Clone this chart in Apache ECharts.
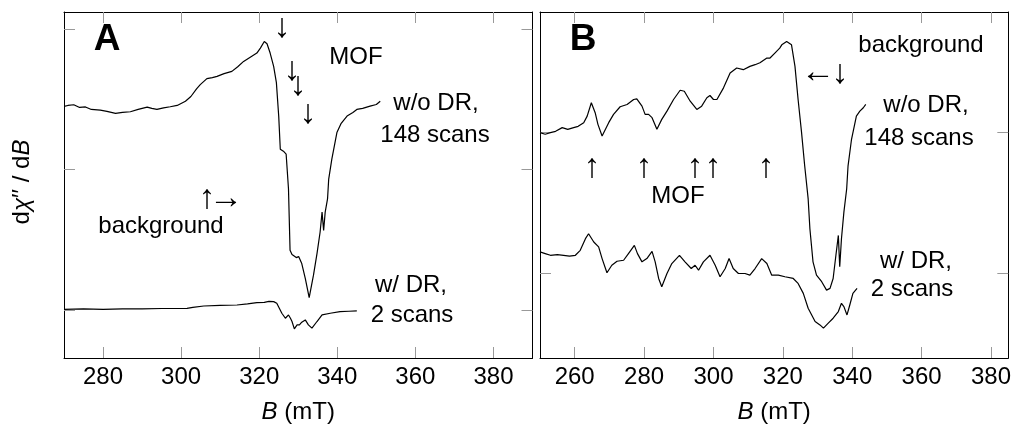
<!DOCTYPE html>
<html lang="en">
<head>
<meta charset="UTF-8">
<title>EPR spectra A / B</title>
<script src="https://cdn.jsdelivr.net/npm/echarts@6/dist/echarts.min.js"></script>
<style>
  html, body { margin: 0; padding: 0; background: #fff; }
  #main { width: 1014px; height: 429px; }
</style>
</head>
<body>
<div id="main"></div>
<script>
// field values in mT, signal in arbitrary units
var ticksA = [280, 300, 320, 340, 360, 380];
var ticksB = [260, 280, 300, 320, 340, 360, 380];
var yTicksA = [48, 190, 331];
var yTicksB = [85, 227];

// panel A, w/o DR, 148 scans
var aNoDR = [[270,253],[271,254],[272.5,254.7],[274,252],[275.5,252.5],[277,250],[279.3,249.3],[281,248],
  [283.2,246],[285,247],[287,247.7],[289,250],[291.3,252.3],[292.5,251],[293.8,250],[295.5,251.5],
  [297.2,252.7],[299,254],[301.1,258.3],[302.5,263],[304,271],[304.9,275],[306.6,281],[308,282],
  [309.2,283.3],[311,286],[313,288.3],[314.5,293],[316,298.3],[317.5,302],[319.4,306.7],[320.3,311.7],
  [321.3,318.3],[322,316],[322.8,306.7],[323.7,293.3],[324.4,277],[325,243],[325.4,210],[326.2,208],
  [326.9,205],[327.5,170],[327.9,108.3],[328.4,104],[328.8,105],[329.5,101],[330.1,102],[330.9,95],
  [331.8,80],[332.8,60.7],[333.9,83.3],[334.8,105],[335.6,126.7],[336.1,146.7],[336.5,128.3],
  [336.9,146.7],[337.5,160],[337.8,180],[338.6,200],[339.9,226.7],[341,236],[342.5,243.3],[344,247],
  [345,250],[346.5,251],[348.4,253.3],[350,255],[351,258.3]];

// panel A, w/ DR, 2 scans
var aDR = [[270,49],[275,49.5],[280,49],[285,49.5],[290,49.5],[295,49.8],[301.5,50],[303,51],
  [305.8,52.3],[310,53],[314.3,53.3],[317,54.5],[319.4,55.7],[321.3,56],[322.5,57],[323.7,56.7],
  [324.5,55],[325,53.3],[325.8,45],[326.7,40],[327.5,43.3],[328,40],[328.4,36.7],[329,29.3],
  [329.7,33.3],[330.3,33.3],[330.9,36],[331.8,38.3],[332.6,33.3],[333.5,30],[334.8,36.7],
  [336.1,43.3],[338.2,45],[340.7,46.7],[343,47],[345,47.3]];

// panel B, w/o DR, 148 scans
var bNoDR = [[250,226.7],[251.5,225],[253,226.7],[254.5,228],[256.4,231.7],[258,230],[259.7,231.7],
  [261,233],[262.6,236.7],[263.6,243.3],[264.8,256.7],[265.9,246.7],[266.7,235],[267.9,223.3],
  [269.8,236.7],[271.2,245],[273.1,252.7],[275.1,255],[277,260],[277.9,260.7],[279.4,253.3],
  [280.3,245],[281.3,245],[282.3,241.7],[283.7,230],[285.1,240],[286.6,248.3],[288.5,260],
  [290.4,269.3],[291.6,268.3],[293.3,258.3],[295.2,250],[296.6,253.3],[298.1,261.7],[299,264],
  [300,260],[301,260],[302.9,271.7],[304.8,286.7],[306.7,291.7],[308.6,290],[310.5,293.3],
  [312,295],[313.4,297],[315.4,301.7],[316.3,301.7],[317.7,306.7],[319.1,311.7],[319.7,315],
  [321.1,318.3],[322.5,315],[323.5,293.3],[324.4,260],[325.4,226.7],[326.3,193.3],[327.3,160],
  [327.8,130],[328.7,96.7],[329.7,83.3],[331.2,76.7],[332.6,68.3],[333.6,70],[334.5,80],
  [335.3,103.3],[336,123.3],[336.4,91.7],[336.9,120],[337.6,146.7],[338.4,170],[338.8,193.3],
  [339.8,220],[341.2,243.3],[342.2,248.3],[343.2,251.7],[343.9,255]];

// panel B, w/ DR, 2 scans
var bDR = [[250,106.7],[251.5,105],[253,103.3],[255,104],[256.8,103.3],[258.5,102.5],[260.2,103.3],
  [261.6,108.3],[263.1,120],[264,125],[265.5,116.7],[266.9,111.7],[267.9,100],[269.3,85.7],
  [270.7,93.3],[272.2,97.3],[274.1,98.3],[275.5,105],[277.2,113.3],[278.1,105],[279.4,96.7],
  [280.8,100],[282.3,107.3],[283.2,96.7],[284.2,80],[285.1,71.7],[286.6,85],[288,95],[290.2,103.3],
  [291.8,96.7],[293.6,90],[294.7,93.3],[295.7,88.3],[297.1,96.7],[299,103.3],[300.5,93.3],
  [301.9,81.7],[303.4,90],[304.5,100],[305.7,90],[307.2,85],[309.1,85],[310.5,83.3],[312,90],
  [313.9,100],[315.4,95],[316.8,83.3],[318.7,83.3],[320.6,81.7],[323,80],[324.4,75],[325.9,65],
  [327.3,50],[329.3,36.7],[330.7,33.3],[331.7,30],[333.1,35],[334.5,40],[336,46.7],[336.9,55],
  [337.6,51.7],[338.5,43.3],[339.3,53.3],[340.2,65],[341.4,70]];

var FONT = 'Liberation Sans, Arial, Helvetica, sans-serif';
var tickStyle = { show: true, inside: true, length: 11, lineStyle: { color: '#999', width: 1 } };
var boxLine = { show: true, onZero: false, lineStyle: { color: '#000', width: 1 } };

function xBottom(gi, min, max, ticks) {
  return {
    type: 'value', gridIndex: gi, position: 'bottom', min: min, max: max,
    axisLine: boxLine,
    axisTick: Object.assign({ customValues: ticks }, tickStyle),
    axisLabel: { customValues: ticks, color: '#000', fontSize: 24, fontFamily: FONT, margin: 7 },
    splitLine: { show: false },
    name: '{i|B} (mT)', nameLocation: 'middle', nameGap: 42,
    nameTextStyle: {
      color: '#000', fontSize: 24, fontFamily: FONT,
      rich: { i: { fontStyle: 'italic', fontSize: 24, fontFamily: FONT, color: '#000' } }
    }
  };
}
function xTop(gi, min, max, ticks) {
  return {
    type: 'value', gridIndex: gi, position: 'top', min: min, max: max,
    axisLine: boxLine,
    axisTick: Object.assign({ customValues: ticks }, tickStyle),
    axisLabel: { show: false }, splitLine: { show: false }
  };
}
function yAx(gi, pos, ticks) {
  return {
    type: 'value', gridIndex: gi, position: pos, min: 0, max: 348,
    axisLine: boxLine,
    axisTick: Object.assign({ customValues: ticks }, tickStyle),
    axisLabel: { show: false }, splitLine: { show: false }
  };
}
function line(data, xi, yi) {
  return {
    type: 'line', data: data, xAxisIndex: xi, yAxisIndex: yi,
    showSymbol: false, symbol: 'none', silent: true,
    lineStyle: { color: '#000', width: 1.2 }
  };
}
function txt(x, y, s, size, extra) {
  return {
    type: 'text', x: x, y: y, silent: true,
    style: Object.assign({ text: s, fontSize: size || 24, fontFamily: FONT, fill: '#000',
      align: 'center', verticalAlign: 'middle' }, extra || {})
  };
}
// arrow glyphs are drawn larger than the labels
function arr(x, y, s) { return txt(x, y, s, 34); }

var myChart = echarts.init(document.getElementById('main'), null, { renderer: 'canvas' });

var option = {
  animation: false,
  backgroundColor: '#fff',
  grid: [
    { left: 64, top: 12, width: 468.5, height: 348 },
    { left: 540, top: 12, width: 468.5, height: 348 }
  ],
  xAxis: [
    xBottom(0, 270, 390, ticksA), xTop(0, 270, 390, ticksA),
    xBottom(1, 250, 385, ticksB), xTop(1, 250, 385, ticksB)
  ],
  yAxis: [
    yAx(0, 'left', yTicksA), yAx(0, 'right', yTicksA),
    yAx(1, 'left', yTicksB), yAx(1, 'right', yTicksB)
  ],
  series: [
    line(aNoDR, 0, 0), line(aDR, 0, 0),
    line(bNoDR, 2, 2), line(bDR, 2, 2)
  ],
  graphic: [
    // y axis title
    {
      type: 'text', x: 22, y: 182, rotation: Math.PI / 2, silent: true,
      style: {
        text: '{n|d}{i|χ}{n|′′ / d}{i|B}', align: 'center', verticalAlign: 'middle',
        rich: {
          n: { fontSize: 24, fontFamily: FONT, fill: '#000' },
          i: { fontSize: 24, fontFamily: FONT, fill: '#000', fontStyle: 'italic' }
        }
      }
    },
    // panel A
    txt(107, 40, 'A', 37, { fontWeight: 'bold' }),
    arr(282, 28, '↓'), arr(292, 71, '↓'), arr(298, 86, '↓'), arr(308, 114, '↓'),
    txt(356, 57, 'MOF'),
    txt(436, 103, 'w/o DR,'), txt(435, 135, '148 scans'),
    arr(207, 199, '↑'), arr(226, 199, '→'),
    txt(161, 226, 'background'),
    txt(411, 285, 'w/ DR,'), txt(412, 315, '2 scans'),
    // panel B
    txt(583, 40, 'B', 37, { fontWeight: 'bold' }),
    txt(921, 45, 'background'),
    arr(818, 73, '←'), arr(840, 74, '↓'),
    txt(926, 105, 'w/o DR,'), txt(919, 138, '148 scans'),
    arr(592, 168, '↑'), arr(644, 168, '↑'), arr(695, 168, '↑'), arr(713, 168, '↑'), arr(766, 168, '↑'),
    txt(678, 196, 'MOF'),
    txt(916, 261, 'w/ DR,'), txt(912, 289, '2 scans')
  ]
};
myChart.setOption(option);
</script>
</body>
</html>
